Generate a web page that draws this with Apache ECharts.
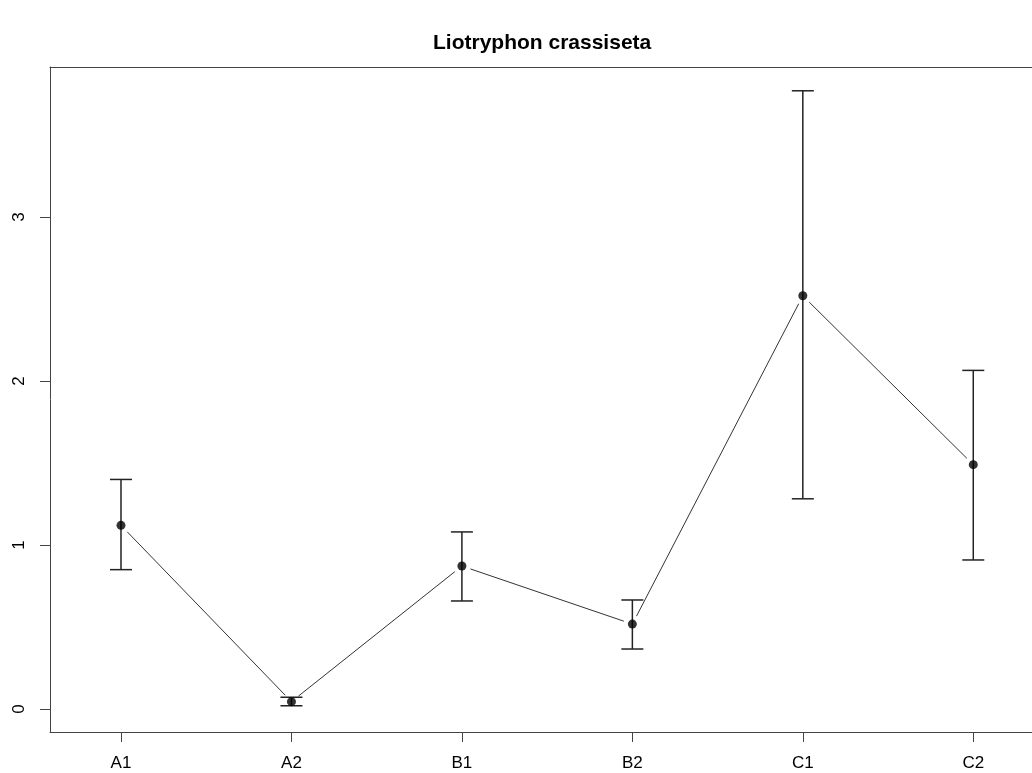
<!DOCTYPE html>
<html>
<head>
<meta charset="utf-8">
<script src="https://cdn.jsdelivr.net/npm/echarts@6/dist/echarts.min.js"></script>
<style>
  html, body { margin: 0; padding: 0; background: #fff; }
  #chart { width: 1032px; height: 773px; }
</style>
</head>
<body>
<div id="chart"></div>
<script>
const title = 'Liotryphon crassiseta';
const categories = ['A1', 'A2', 'B1', 'B2', 'C1', 'C2'];
const means = [1.12, 0.045, 0.872, 0.518, 2.52, 1.49];
const upper = [1.40, 0.072, 1.08, 0.665, 3.77, 2.065];
const lower = [0.85, 0.020, 0.659, 0.366, 1.282, 0.909];
const yTicks = [0, 1, 2, 3];
const xPositions = categories.map((c, i) => i + 1);

const FONT = '"Liberation Sans", Arial, sans-serif';
const AXIS_COLOR = '#444';
const X_MIN = 0.5835, X_MAX = 6.3445;

const chart = echarts.init(document.getElementById('chart'), null, { renderer: 'canvas' });

const pointData = categories.map((c, i) => [xPositions[i], means[i]]);
const errData = categories.map((c, i) => [xPositions[i], lower[i], upper[i]]);
const segData = [];
for (let i = 0; i < categories.length - 1; i++) {
  segData.push([xPositions[i], means[i], xPositions[i + 1], means[i + 1]]);
}

const option = {
  backgroundColor: '#fff',
  animation: false,
  title: {
    text: title,
    left: 428,
    top: 28,
    textStyle: { fontFamily: FONT, fontSize: 21, fontWeight: 'bold', color: '#000' }
  },
  grid: {
    left: 50, right: 0, top: 67, bottom: 41, show: false
  },
  xAxis: [
    {
      type: 'value',
      position: 'bottom',
      min: X_MIN,
      max: X_MAX,
      splitLine: { show: false },
      axisLine: { show: true, onZero: false, lineStyle: { color: AXIS_COLOR, width: 1 } },
      axisTick: { show: true, length: 10, customValues: xPositions, lineStyle: { color: AXIS_COLOR } },
      axisLabel: {
        show: true,
        customValues: xPositions,
        formatter: v => categories[Math.round(v) - 1] || '',
        margin: 23,
        fontFamily: FONT, fontSize: 17, color: '#000'
      }
    },
    {
      type: 'value',
      position: 'top',
      min: X_MIN,
      max: X_MAX,
      splitLine: { show: false },
      axisLine: { show: true, onZero: false, lineStyle: { color: AXIS_COLOR, width: 1 } },
      axisTick: { show: false },
      axisLabel: { show: false }
    }
  ],
  yAxis: {
    type: 'value',
    min: -0.140,
    max: 3.915,
    splitLine: { show: false },
    axisLine: { show: true, onZero: false, lineStyle: { color: AXIS_COLOR, width: 1 } },
    axisTick: { show: true, length: 10, customValues: yTicks, lineStyle: { color: AXIS_COLOR } },
    axisLabel: {
      show: true,
      customValues: yTicks,
      rotate: 90,
      margin: 22,
      fontFamily: FONT, fontSize: 17, color: '#000'
    }
  },
  series: [
    {
      type: 'custom',
      data: segData,
      renderItem: (params, api) => {
        const p1 = api.coord([api.value(0), api.value(1)]);
        const p2 = api.coord([api.value(2), api.value(3)]);
        const dx = p2[0] - p1[0], dy = p2[1] - p1[1];
        const len = Math.sqrt(dx * dx + dy * dy);
        const gap = 9;
        const ux = dx / len, uy = dy / len;
        return {
          type: 'line',
          shape: {
            x1: p1[0] + ux * gap, y1: p1[1] + uy * gap,
            x2: p2[0] - ux * gap, y2: p2[1] - uy * gap
          },
          style: { stroke: '#333', lineWidth: 1 }
        };
      },
      z: 2
    },
    {
      type: 'custom',
      data: errData,
      renderItem: (params, api) => {
        const lo = api.coord([api.value(0), api.value(1)]);
        const hi = api.coord([api.value(0), api.value(2)]);
        const hw = 11;
        const style = { stroke: '#222', lineWidth: 1.5 };
        return {
          type: 'group',
          children: [
            { type: 'line', shape: { x1: lo[0], y1: lo[1], x2: hi[0], y2: hi[1] }, style },
            { type: 'line', shape: { x1: lo[0] - hw, y1: lo[1], x2: lo[0] + hw, y2: lo[1] }, style },
            { type: 'line', shape: { x1: hi[0] - hw, y1: hi[1], x2: hi[0] + hw, y2: hi[1] }, style }
          ]
        };
      },
      z: 3
    },
    {
      type: 'scatter',
      data: pointData,
      symbol: 'circle',
      symbolSize: 9,
      itemStyle: { color: '#000' },
      z: 4
    }
  ]
};

chart.setOption(option);
</script>
</body>
</html>
